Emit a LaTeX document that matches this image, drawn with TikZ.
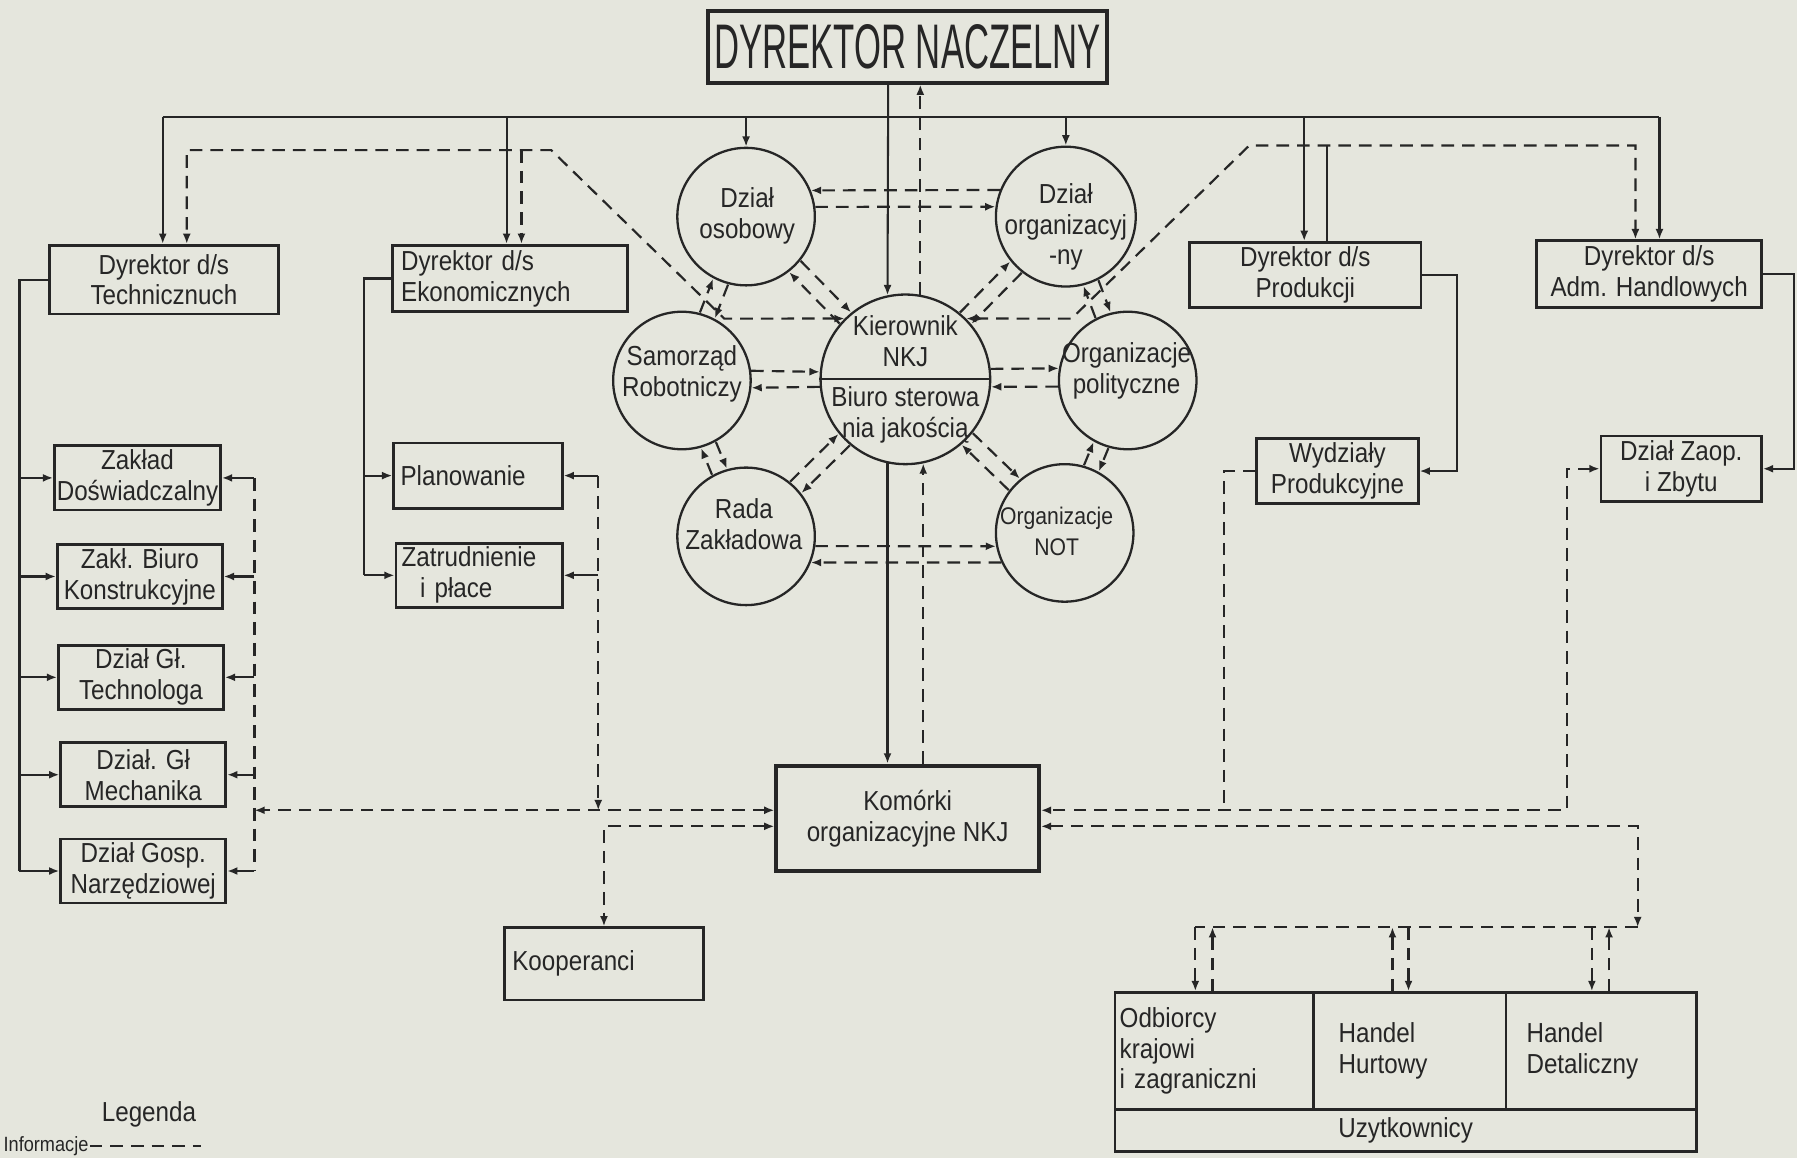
\documentclass[tikz,border=0pt]{standalone}
\usepackage{fontspec}
\setmainfont{Liberation Sans}[FakeStretch=0.88]
\newfontfamily\titlefont{Liberation Sans}[FakeStretch=0.55]
\usetikzlibrary{arrows.meta,calc}
\definecolor{paper}{RGB}{229,230,221}
\definecolor{ink}{RGB}{38,38,38}
% two opposite information lines between two circles
\newcommand{\infopair}[4]{%
  \draw[infoline,->,shorten <=#3,shorten >=#4]
    ($(#1)!7pt!90:(#2)$) -- ($(#2)!7pt!-90:(#1)$);
  \draw[infoline,->,shorten <=#4,shorten >=#3]
    ($(#2)!7pt!90:(#1)$) -- ($(#1)!7pt!-90:(#2)$);}
\begin{document}
\begin{tikzpicture}
[x=1pt,y=-1pt,>={Latex[length=9pt,width=7pt]},
  boxdecorate/.style={shape=rectangle,draw=ink,line width=2.4pt,inner sep=2pt,
    align=center,text=ink,font=\fontsize{24}{27}\selectfont},
  circdecorate/.style={shape=circle,draw=ink,line width=2pt,inner sep=0pt,
    minimum size=120pt},
  labeldecorate/.style={align=center,text=ink,font=\fontsize{24}{27}\selectfont},
  linedecorate/.style={draw=ink,line width=1.8pt,->},
  infoline/.style={draw=ink,line width=1.9pt,dash pattern=on 11pt off 7pt}]
\fill[paper] (0,0) rectangle (1568,1010);
\useasboundingbox (0,0) rectangle (1568,1010);
% boxes
\node (dn) at (792,41) [boxdecorate,line width=3.5pt,minimum width=348pt,
  minimum height=62pt,font=\titlefont\fontsize{55}{60}\selectfont] {DYREKTOR NACZELNY};
\node (dt) at (143,244) [boxdecorate,minimum width=200pt,minimum height=60pt] {Dyrektor d/s\\Technicznuch};
\node (de) at (445,243) [boxdecorate,minimum width=205pt,minimum height=58pt,
  text width=190pt,align=left] {Dyrektor d/s\\Ekonomicznych};
\node (dp) at (1139,240) [boxdecorate,minimum width=202pt,minimum height=57pt] {Dyrektor d/s\\Produkcji};
\node (da) at (1439,239) [boxdecorate,minimum width=196pt,minimum height=58pt] {Dyrektor d/s\\Adm. Handlowych};
\node (zd) at (120,417) [boxdecorate,minimum width=144pt,minimum height=56pt] {Zakład\\Doświadczalny};
\node (zb) at (122,503) [boxdecorate,minimum width=144pt,minimum height=56pt] {Zakł. Biuro\\Konstrukcyjne};
\node (gt) at (123,591) [boxdecorate,minimum width=144pt,minimum height=56pt] {Dział Gł.\\Technologa};
\node (gm) at (125,676) [boxdecorate,minimum width=144pt,minimum height=56pt] {Dział. Gł\\Mechanika};
\node (gn) at (125,760) [boxdecorate,minimum width=144pt,minimum height=56pt] {Dział Gosp.\\Narzędziowej};
\node (pl) at (417,415) [boxdecorate,minimum width=147pt,minimum height=57pt,
  text width=135pt,align=left] {Planowanie};
\node (zp) at (418,502) [boxdecorate,minimum width=145pt,minimum height=56pt,
  text width=135pt,align=left] {Zatrudnienie\\\ \ i płace};
\node (ko) at (527,841) [boxdecorate,minimum width=174pt,minimum height=63pt,
  text width=160pt,align=left] {Kooperanci};
\node (kn) at (792,714) [boxdecorate,line width=3.5pt,minimum width=229pt,
  minimum height=92pt] {Komórki\\organizacyjne NKJ};
\node (wp) at (1167,411) [boxdecorate,minimum width=141pt,minimum height=57pt] {Wydziały\\Produkcyjne};
\node (zz) at (1467,409) [boxdecorate,minimum width=140pt,minimum height=57pt] {Dział Zaop.\\i Zbytu};
\node (od) at (1059.5,917) [boxdecorate,minimum width=173pt,minimum height=102pt,
  text width=165pt,align=left] {Odbiorcy\\krajowi\\i zagraniczni};
\node (hh) at (1230,917) [boxdecorate,minimum width=168pt,minimum height=102pt,
  text width=124pt,align=left] {Handel\\Hurtowy};
\node (hd) at (1397,917) [boxdecorate,minimum width=166pt,minimum height=102pt,
  text width=130pt,align=left] {Handel\\Detaliczny};
\node (uz) at (1226.5,986.5) [boxdecorate,minimum width=507pt,minimum height=37pt] {Uzytkownicy};
% circles
\node (os) at (651,189) [circdecorate] {};
\node at (652,188) [labeldecorate] {Dział\\osobowy};
\node (or) at (930,189) [circdecorate,minimum size=122pt] {};
\node at (930,198) [labeldecorate] {Dział\\organizacyj\\-ny};
\node (sr) at (595,332) [circdecorate] {};
\node at (595,326) [labeldecorate] {Samorząd\\Robotniczy};
\node (kr) at (790,331) [circdecorate,minimum size=148pt] {};
\draw[ink,line width=2pt] (kr.west) -- (kr.east);
\node at (790,298) [labeldecorate] {Kierownik\\NKJ};
\node at (790,362) [labeldecorate] {Biuro sterowa\\nia jakością};
\node (op) at (984,332) [circdecorate] {};
\node at (983,324) [labeldecorate] {Organizacje\\polityczne};
\node (rz) at (651,468) [circdecorate] {};
\node at (649,457) [labeldecorate] {Rada\\Zakładowa};
\node (nt) at (929,465) [circdecorate] {};
\node at (922,464) [labeldecorate,font=\fontsize{21}{27}\selectfont] {Organizacje\\NOT};
% solid lines
\coordinate (b1) at (142,102);
\coordinate (b2) at (442,102);
\coordinate (b3) at (651,102);
\coordinate (b4) at (775,102);
\coordinate (b5) at (930,102);
\coordinate (b6) at (1138,102);
\coordinate (b7) at (1448,102);
\draw[linedecorate,-] (b1) -- (b7);
\draw[linedecorate] (b1) -- (b1 |- dt.north);
\draw[linedecorate] (b2) -- (b2 |- de.north);
\draw[linedecorate] (b3) -- (os.north);
\draw[linedecorate] (b5) -- (or.north);
\draw[linedecorate] (b6) -- (b6 |- dp.north);
\draw[linedecorate] (b7) -- (b7 |- da.north);
\draw[linedecorate] (dn.south -| b4) -- (kr.102);
\draw[linedecorate] (kr.258) -- (kr.258 |- kn.north);
\coordinate (tl) at (17,760);
\draw[linedecorate,-] (dt.west) -| (tl);
\draw[linedecorate] (zd.west -| tl) -- (zd.west);
\draw[linedecorate] (zb.west -| tl) -- (zb.west);
\draw[linedecorate] (gt.west -| tl) -- (gt.west);
\draw[linedecorate] (gm.west -| tl) -- (gm.west);
\draw[linedecorate] (gn.west -| tl) -- (gn.west);
\coordinate (el) at (318,502);
\draw[linedecorate,-] (de.west) -| (el);
\draw[linedecorate] (pl.west -| el) -- (pl.west);
\draw[linedecorate] (zp.west -| el) -- (zp.west);
\coordinate (pr) at (1271,411);
\draw[linedecorate] (dp.east) -| (pr) -- (wp.east);
\coordinate (ar) at (1565,409);
\draw[linedecorate] (da.east) -| (ar) -- (zz.east);
\coordinate (r4) at (1158,127);
\draw[linedecorate,-] (r4) -- (r4 |- dp.north);
% information lines
\draw[infoline,->] (kr.80) -- (dn.south -| kr.80);
\draw[infoline,->] (kr.282 |- kn.north) -- (kr.282);
\coordinate (l1) at (632,278);
\coordinate (l2) at (481,131);
\coordinate (l3) at (163,131);
\coordinate (l4) at (455,131);
\draw[infoline,<->] (kr.135) -- (l1) -- (l2) -- (l3) -- (l3 |- dt.north);
\draw[infoline,->] (l4) -- (l4 |- de.north);
\coordinate (r1) at (935,278);
\coordinate (r2) at (1090,127);
\coordinate (r3) at (1427,127);
\draw[infoline,<->] (kr.45) -- (r1) -- (r2) -- (r3) -- (r3 |- da.north);
\draw[infoline,->] (or.158) -- (os.22);
\draw[infoline,->] (os.8) -- (or.172);
\draw[infoline,->] (sr.8) -- (kr.175);
\draw[infoline,->] (kr.185) -- (sr.354);
\draw[infoline,->] (kr.7) -- (op.170);
\draw[infoline,->] (op.185) -- (kr.355);
\draw[infoline,->] (rz.352) -- (nt.191);
\draw[infoline,->] (nt.205) -- (rz.338);
\infopair{os}{sr}{61pt}{61pt}
\infopair{or}{op}{62pt}{61pt}
\infopair{sr}{rz}{61pt}{61pt}
\infopair{op}{nt}{61pt}{61pt}
\infopair{os}{kr}{61pt}{75pt}
\infopair{or}{kr}{62pt}{75pt}
\infopair{rz}{kr}{61pt}{75pt}
\infopair{nt}{kr}{61pt}{75pt}
% left collectors
\coordinate (tc) at (222,417);
\coordinate (td) at (222,760);
\draw[infoline] (tc) -- (td);
\draw[linedecorate] (zd.east -| tc) -- (zd.east);
\draw[linedecorate] (zb.east -| tc) -- (zb.east);
\draw[linedecorate] (gt.east -| tc) -- (gt.east);
\draw[linedecorate] (gm.east -| tc) -- (gm.east);
\draw[linedecorate] (gn.east -| tc) -- (gn.east);
\draw[infoline,<->] ($(kn.west)+(0,-7)$) -- ($(kn.west -| tc)+(0,-7)$);
\coordinate (ec) at (522,415);
\draw[linedecorate] (pl.east -| ec) -- (pl.east);
\draw[linedecorate] (zp.east -| ec) -- (zp.east);
\draw[infoline,->] (ec) -- ($(kn.west -| ec)+(0,-7)$);
\coordinate (kc) at (527,721);
\draw[infoline,<->] ($(kn.west)+(0,7)$) -- (kc) -- (ko.north);
% right collectors
\coordinate (ke) at ($(kn.east)+(0,-7)$);
\coordinate (kf) at ($(kn.east)+(0,7)$);
\coordinate (wc) at (1068,411);
\coordinate (zc) at (1367,409);
\draw[infoline,<->] (zz.west) -- (zc) -- (zc |- ke) -- (ke);
\draw[infoline] (wp.west) -- (wc) -- (wc |- ke);
\coordinate (uc) at (1429,809);
\coordinate (ul) at (1043,809);
\coordinate (u1) at (1058,809);
\coordinate (u2) at (1215,809);
\coordinate (u3) at (1229,809);
\coordinate (u4) at (1389,809);
\coordinate (u5) at (1404,809);
\draw[infoline,<->] (kf) -| (uc);
\draw[infoline] (uc) -- (ul);
\draw[infoline,->] (ul) -- (ul |- od.north);
\draw[infoline,->] (u1 |- od.north) -- (u1);
\draw[infoline,->] (u2 |- hh.north) -- (u2);
\draw[infoline,->] (u3) -- (u3 |- hh.north);
\draw[infoline,->] (u4) -- (u4 |- hd.north);
\draw[infoline,->] (u5 |- hd.north) -- (u5);
% legend
\node (lg) at (130,972) [labeldecorate] {Legenda};
\node (lf) at (2,1000) [labeldecorate,anchor=west,inner sep=1pt,
  font=\fontsize{18}{20}\selectfont] {Informacje};
\coordinate (lx) at (175,1000);
\draw[infoline] (lf.east) -- (lx);
\end{tikzpicture}
\end{document}
